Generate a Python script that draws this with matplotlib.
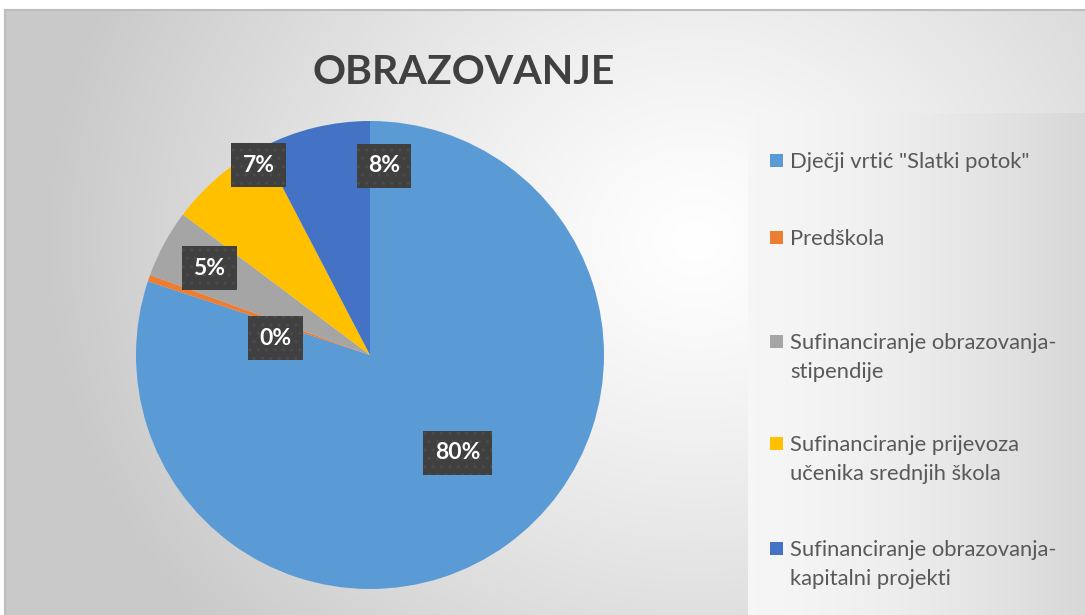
import matplotlib.pyplot as plt
import numpy as np
from matplotlib.patches import Rectangle

# podaci (udio u %)
kategorije = ['Dječji vrtić "Slatki potok"',
              'Predškola',
              'Sufinanciranje obrazovanja-\nstipendije',
              'Sufinanciranje prijevoza\nučenika srednjih škola',
              'Sufinanciranje obrazovanja-\nkapitalni projekti']
udio = [80.1, 0.45, 4.7, 7.1, 7.65]
oznake = ['80%', '0%', '5%', '7%', '8%']
boje = ['#5B9BD5', '#ED7D31', '#A5A5A5', '#FFC000', '#4472C4']

# pomak oznaka (faktor radijusa, pomak kuta u stupnjevima)
pomak_oznaka = [(0.56, 6), (0.41, 9), (0.78, 0), (0.94, -10), (0.81, -18)]

W, H = 1085, 615
fig = plt.figure(figsize=(W / 100, H / 100), dpi=100)
fig.patch.set_facecolor('white')

# pozadina s gradijentom
bg = fig.add_axes([5 / W, 0, (W - 5) / W, (H - 10) / H])
yy, xx = np.mgrid[0:605, 0:1080]
d = np.sqrt(((xx - 690) / 1.0) ** 2 + ((yy - 230) / 0.9) ** 2)
t = np.clip(d / 650, 0, 1) ** 1.2
siva = 1.0 - t * 0.21
slika = np.dstack([siva, siva, siva])
# legenda ima svoj svjetliji panel
lx0, ly0 = 748 - 5, 113 - 10
gx = (xx[ly0:, lx0:] - lx0) / (1080 - lx0)
slika[ly0:, lx0:, :] = (0.965 - 0.12 * gx ** 1.5)[..., None]
bg.imshow(slika, aspect='auto', extent=[0, 1080, 605, 0], interpolation='bilinear')
bg.set_xlim(0, 1080)
bg.set_ylim(605, 0)
bg.set_xticks([])
bg.set_yticks([])
for s in ['right', 'bottom']:
    bg.spines[s].set_visible(False)
for s in ['top', 'left']:
    bg.spines[s].set_color('#bdbdbd')
    bg.spines[s].set_linewidth(1.5)

# naslov
fig.text(464 / W, 1 - 72 / H, 'OBRAZOVANJE', ha='center', va='center',
         fontsize=29.5, fontweight='bold', color='#404040', family='Lato')

# pita
cx, cy, r = 370, 355, 234
ax = fig.add_axes([(cx - r) / W, (H - cy - r) / H, 2 * r / W, 2 * r / H])
wedges, _ = ax.pie(udio, colors=boje, startangle=90, counterclock=False,
                   wedgeprops=dict(linewidth=0))
ax.set_xlim(-1, 1)
ax.set_ylim(-1, 1)
ax.set_facecolor('none')

for w, tekst, (rf, da) in zip(wedges, oznake, pomak_oznaka):
    kut = np.deg2rad((w.theta1 + w.theta2) / 2 + da)
    ax.text(rf * np.cos(kut), rf * np.sin(kut), tekst, ha='center', va='center',
            fontsize=16.5, fontweight='bold', color='white', family='Lato',
            bbox=dict(boxstyle='square,pad=0.5', fc='#404040', ec='#4b4b4b',
                      lw=0, hatch='..'))

# legenda
leg_y = [160, 237, 341, 443, 548]
for boja, naziv, y in zip(boje, kategorije, leg_y):
    fig.patches.append(Rectangle((770 / W, 1 - (y + 7) / H), 13 / W, 13 / H,
                                 transform=fig.transFigure, fc=boja, ec='none'))
    for j, red in enumerate(naziv.split('\n')):
        fig.text(790 / W, 1 - (y + j * 29) / H, red, ha='left', va='center_baseline',
                 fontsize=15.8, color='#595959', family='Lato')

fig.savefig('out.png', dpi=100)
